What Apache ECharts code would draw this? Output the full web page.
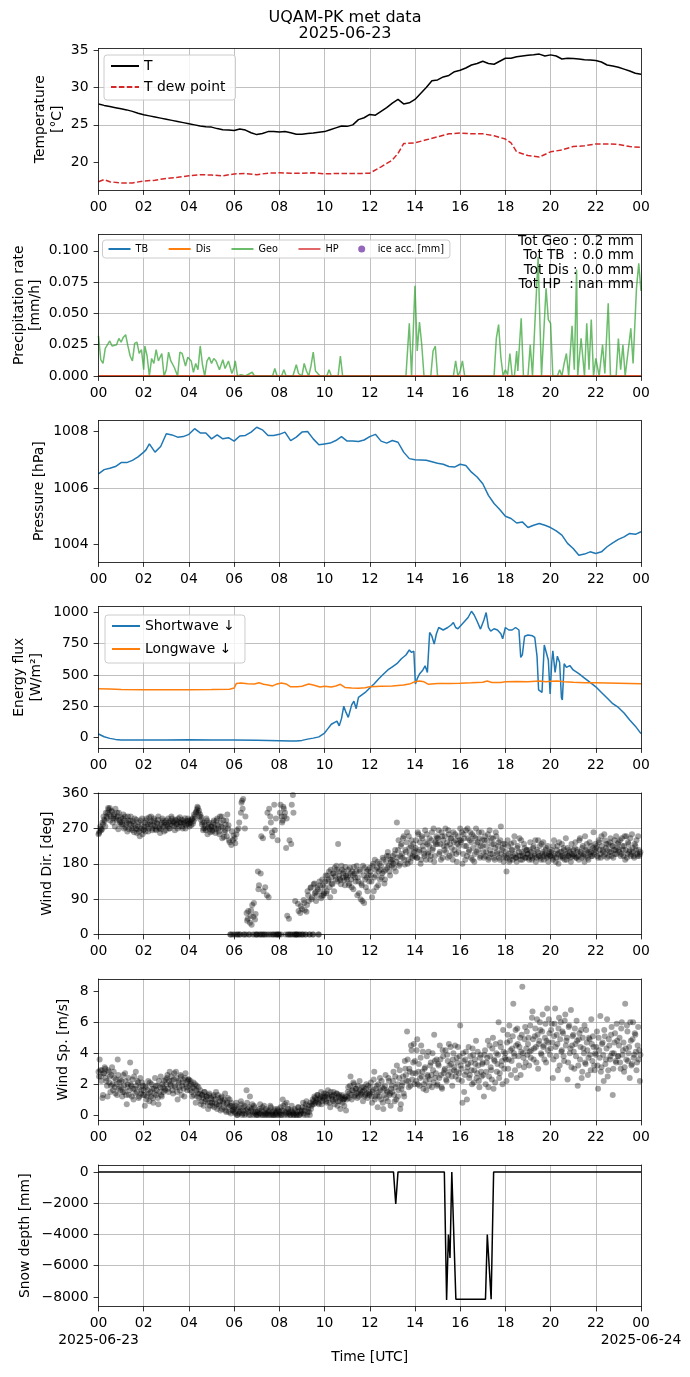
<!DOCTYPE html>
<html lang="en">
<head>
<meta charset="UTF-8">
<title>UQAM-PK met data</title>
<script src="https://cdn.jsdelivr.net/npm/echarts@6.0.0/dist/echarts.min.js"></script>
<style>
  html, body { margin: 0; padding: 0; background: #fff; }
  #chart { width: 690px; height: 1377px; }
</style>
</head>
<body>
<div id="chart"></div>
<script>
// ---- data (hours UTC, 2025-06-23) ----
var X_TICKS = [0, 2, 4, 6, 8, 10, 12, 14, 16, 18, 20, 22, 24];
var DATE_TICKS = [0, 24];
var DATE_LABELS = ['2025-06-23', '2025-06-24'];

var temperature = [[0,27.8],[0.25,27.6],[0.5,27.45],[0.75,27.3],[1,27.15],[1.25,27.0],[1.5,26.8],[1.75,26.55],[2,26.35],[2.25,26.2],[2.5,26.05],[2.75,25.9],[3,25.75],[3.25,25.6],[3.5,25.45],[3.75,25.3],[4,25.15],[4.25,25.0],[4.5,24.85],[4.75,24.75],[5,24.7],[5.25,24.5],[5.5,24.35],[5.75,24.3],[6,24.25],[6.25,24.45],[6.5,24.3],[6.75,23.95],[7,23.7],[7.25,23.85],[7.5,24.1],[7.75,24.1],[8,24.05],[8.25,24.1],[8.5,23.95],[8.75,23.75],[9,23.75],[9.25,23.85],[9.5,23.9],[9.75,24.0],[10,24.1],[10.25,24.35],[10.5,24.6],[10.75,24.85],[11,24.8],[11.25,25.0],[11.5,25.7],[11.75,25.95],[12,26.4],[12.25,26.3],[12.5,26.8],[12.75,27.3],[13,27.9],[13.25,28.4],[13.5,27.8],[13.75,27.95],[14,28.4],[14.25,29.2],[14.5,30.0],[14.75,30.9],[15,31.0],[15.25,31.4],[15.5,31.6],[15.75,32.1],[16,32.3],[16.25,32.6],[16.5,33.0],[16.75,33.2],[17,33.5],[17.25,33.2],[17.5,33.1],[17.75,33.5],[18,33.9],[18.25,33.9],[18.5,34.1],[18.75,34.2],[19,34.3],[19.25,34.35],[19.5,34.45],[19.75,34.2],[20,34.35],[20.25,34.2],[20.5,33.8],[20.75,33.9],[21,33.85],[21.25,33.8],[21.5,33.7],[21.75,33.65],[22,33.6],[22.25,33.4],[22.5,33.0],[22.75,32.85],[23,32.7],[23.25,32.45],[23.5,32.2],[23.75,31.9],[24,31.75]];

var dewPoint = [[0,17.4],[0.25,17.7],[0.5,17.4],[1,17.25],[1.5,17.25],[2,17.5],[2.5,17.6],[3,17.85],[3.5,18.0],[4,18.2],[4.5,18.35],[5,18.3],[5.5,18.2],[6,18.45],[6.5,18.5],[7,18.35],[7.5,18.55],[8,18.6],[8.5,18.55],[9,18.55],[9.5,18.6],[10,18.45],[10.5,18.5],[11,18.5],[11.5,18.5],[12,18.55],[12.5,19.4],[13,20.3],[13.25,21.2],[13.5,22.5],[14,22.6],[14.5,23.0],[15,23.4],[15.5,23.8],[16,23.9],[16.5,23.8],[17,23.8],[17.5,23.55],[18,23.1],[18.25,22.6],[18.5,21.4],[19,20.9],[19.5,20.7],[20,21.4],[20.5,21.65],[21,22.1],[21.5,22.2],[22,22.45],[22.5,22.45],[23,22.4],[23.5,22.1],[24,22.0]];

var geoRate = [[0,0.032],[0.1,0.013],[0.2,0.010],[0.3,0.022],[0.5,0.028],[0.6,0.024],[0.8,0.025],[0.9,0.030],[1.0,0.027],[1.1,0.031],[1.2,0.033],[1.3,0.024],[1.4,0.016],[1.5,0.012],[1.6,0.026],[1.7,0.027],[1.8,0.018],[1.9,0.021],[2.0,0.005],[2.05,0.024],[2.15,0.016],[2.25,0.0],[2.35,0.014],[2.45,0.010],[2.55,0.021],[2.65,0.012],[2.8,0.018],[2.9,0.0],[3.0,0.005],[3.1,0.019],[3.2,0.012],[3.35,0.007],[3.5,0.0],[3.6,0.019],[3.7,0.018],[3.85,0.008],[3.95,0.015],[4.1,0.012],[4.2,0.003],[4.3,0.010],[4.4,0.005],[4.5,0.024],[4.6,0.009],[4.7,0.0],[4.8,0.012],[4.9,0.015],[5.0,0.010],[5.1,0.014],[5.2,0.012],[5.35,0.005],[5.5,0.013],[5.6,0.006],[5.75,0.012],[5.9,0.002],[6.0,0.007],[6.05,0.012],[6.15,0.0],[6.3,0.001],[6.5,0.0],[6.8,0.003],[6.9,0.0],[7.7,0.0],[7.8,0.006],[7.9,0.0],[8.1,0.0],[8.2,0.005],[8.3,0.0],[8.6,0.0],[8.75,0.009],[8.85,0.002],[9.0,0.0],[9.1,0.010],[9.2,0.004],[9.3,0.0],[9.4,0.008],[9.5,0.019],[9.6,0.004],[9.8,0.0],[10.1,0.0],[10.2,0.005],[10.3,0.0],[10.6,0.0],[10.7,0.016],[10.8,0.0],[13.6,0.0],[13.75,0.042],[13.85,0.0],[14.0,0.072],[14.1,0.020],[14.2,0.043],[14.3,0.025],[14.4,0.0],[14.7,0.0],[14.8,0.020],[14.9,0.024],[15.0,0.0],[15.7,0.0],[15.8,0.012],[15.9,0.0],[16.0,0.004],[16.1,0.012],[16.2,0.0],[17.5,0.0],[17.6,0.030],[17.7,0.041],[17.8,0.015],[17.9,0.0],[18.0,0.005],[18.1,0.001],[18.2,0.018],[18.3,0.0],[18.4,0.0],[18.5,0.020],[18.55,0.004],[18.7,0.046],[18.8,0.0],[19.0,0.0],[19.1,0.025],[19.2,0.0],[19.3,0.040],[19.45,0.095],[19.5,0.060],[19.6,0.0],[19.8,0.070],[19.9,0.045],[20.0,0.042],[20.1,0.0],[20.3,0.0],[20.4,0.005],[20.5,0.0],[20.6,0.010],[20.7,0.018],[20.8,0.0],[20.95,0.040],[21.05,0.005],[21.15,0.085],[21.2,0.0],[21.35,0.030],[21.5,0.0],[21.6,0.042],[21.7,0.005],[21.8,0.045],[21.9,0.0],[22.0,0.014],[22.15,0.0],[22.3,0.025],[22.4,0.002],[22.55,0.058],[22.65,0.0],[22.9,0.0],[23.0,0.030],[23.1,0.005],[23.2,0.025],[23.3,0.0],[23.55,0.038],[23.65,0.010],[23.8,0.070],[23.9,0.090],[24.0,0.068]];
var tbRate  = [[0,0],[24,0]];
var disRate = [[0,0],[24,0]];
var hpRate  = [[0,0],[24,0]];
var precipTotals = ['Tot Geo : 0.2 mm', 'Tot TB  : 0.0 mm', 'Tot Dis : 0.0 mm', 'Tot HP  : nan mm'];

var pressure = [[0,1006.5],[0.25,1006.65],[0.5,1006.7],[0.75,1006.76],[1,1006.9],[1.25,1006.9],[1.5,1006.98],[1.75,1007.1],[2,1007.27],[2.1,1007.35],[2.25,1007.56],[2.5,1007.27],[2.75,1007.47],[3,1007.92],[3.25,1007.88],[3.5,1007.8],[3.75,1007.82],[4,1007.9],[4.25,1008.1],[4.5,1007.95],[4.75,1007.95],[5,1007.74],[5.25,1007.88],[5.5,1007.74],[5.75,1007.78],[6,1007.66],[6.25,1007.84],[6.5,1007.86],[6.75,1007.98],[7,1008.15],[7.25,1008.06],[7.5,1007.86],[7.75,1007.86],[8,1007.9],[8.25,1007.98],[8.5,1007.68],[8.75,1007.8],[9,1007.98],[9.25,1008.0],[9.5,1007.74],[9.75,1007.53],[10,1007.56],[10.25,1007.59],[10.5,1007.68],[10.75,1007.82],[11,1007.66],[11.25,1007.66],[11.5,1007.65],[11.75,1007.7],[12,1007.82],[12.25,1007.9],[12.5,1007.66],[12.75,1007.59],[13,1007.68],[13.25,1007.62],[13.5,1007.27],[13.75,1007.04],[14,1007.0],[14.5,1006.98],[15,1006.88],[15.25,1006.84],[15.5,1006.76],[15.75,1006.74],[16,1006.84],[16.25,1006.8],[16.5,1006.56],[16.75,1006.39],[17,1006.15],[17.25,1005.74],[17.5,1005.45],[17.75,1005.24],[18,1005.0],[18.25,1004.92],[18.5,1004.76],[18.75,1004.8],[19,1004.6],[19.25,1004.68],[19.5,1004.74],[19.75,1004.68],[20,1004.6],[20.25,1004.48],[20.5,1004.33],[20.75,1004.04],[21,1003.86],[21.25,1003.62],[21.5,1003.66],[21.75,1003.74],[22,1003.68],[22.25,1003.74],[22.5,1003.92],[22.75,1004.06],[23,1004.18],[23.25,1004.27],[23.5,1004.39],[23.75,1004.36],[24,1004.45]];

var shortwave = [[0,27],[0.25,5],[0.5,-8],[0.75,-16],[1,-20],[1.5,-21],[2,-21],[3,-20],[4,-19],[5,-20],[6,-21],[7,-23],[8,-26],[8.5,-28],[8.75,-29],[9,-24],[9.25,-14],[9.5,-6],[9.75,4],[10,35],[10.15,70],[10.3,105],[10.45,120],[10.55,130],[10.65,92],[10.75,150],[10.85,250],[10.95,200],[11.05,160],[11.2,260],[11.3,290],[11.4,230],[11.5,320],[11.65,340],[11.8,360],[12,395],[12.2,430],[12.4,470],[12.6,505],[12.8,540],[13,565],[13.2,590],[13.4,630],[13.6,660],[13.75,700],[13.85,680],[13.95,690],[14.02,427],[14.1,470],[14.2,507],[14.35,540],[14.45,573],[14.55,520],[14.65,840],[14.75,810],[14.85,747],[14.95,830],[15.05,880],[15.25,860],[15.45,880],[15.6,900],[15.7,920],[15.8,880],[15.9,870],[16.05,900],[16.2,930],[16.35,960],[16.5,1010],[16.62,980],[16.75,930],[16.9,867],[17.05,940],[17.15,1000],[17.25,880],[17.35,850],[17.5,870],[17.65,860],[17.8,830],[17.88,790],[18.0,880],[18.15,860],[18.3,860],[18.45,880],[18.6,860],[18.68,640],[18.75,660],[18.85,810],[19.0,820],[19.2,813],[19.3,800],[19.4,650],[19.47,380],[19.55,373],[19.62,360],[19.72,740],[19.8,747],[19.9,620],[19.98,347],[20.05,600],[20.1,693],[20.2,520],[20.3,650],[20.4,600],[20.48,320],[20.52,300],[20.6,590],[20.7,560],[20.85,575],[21,540],[21.25,510],[21.5,475],[21.75,440],[22,405],[22.25,360],[22.5,315],[22.75,270],[23,240],[23.25,195],[23.5,140],[23.75,90],[24,30]];

var longwave = [[0,390],[0.5,388],[1,383],[2,381],[3,381],[4,382],[5,383],[5.8,386],[6.0,395],[6.1,432],[6.3,435],[6.6,430],[6.9,428],[7.1,437],[7.3,425],[7.5,420],[7.7,412],[7.9,428],[8.1,435],[8.3,428],[8.5,405],[8.8,405],[9.0,410],[9.3,428],[9.5,420],[9.8,403],[10.0,410],[10.3,403],[10.5,412],[10.7,425],[10.9,400],[11.2,395],[11.5,393],[11.8,398],[12.0,405],[12.5,410],[13.0,412],[13.5,420],[13.8,430],[14.0,445],[14.2,452],[14.4,445],[14.6,425],[15.0,432],[15.5,432],[16.0,433],[16.5,437],[17.0,442],[17.2,452],[17.4,440],[17.8,440],[18.0,445],[18.5,448],[19.0,445],[19.5,452],[19.8,446],[20.0,450],[20.3,452],[20.6,445],[21.0,441],[21.5,438],[22.0,438],[22.5,436],[23.0,434],[23.5,432],[24,430]];

// wind samples: one row per hour, two interleaved sets (minute offsets below)
var SAMPLE_MIN_A = [0,3,6,9,12,15,18,21,24,27,30,33,36,39,42,45,48,51,54,57];
var SAMPLE_MIN_B = [1.5,4.5,7.5,10.5,13.5,16.5,19.5,22.5,25.5,28.5,31.5,34.5,37.5,40.5,43.5,46.5,49.5,52.5,55.5,58.5];

var windDirA = [
  [255,262,270,268,280,292,275,300,310,318,322,300,312,295,305,320,290,300,310,285],
  [298,280,305,290,272,285,300,268,290,278,265,282,295,270,258,275,262,290,280,255],
  [268,284,290,275,262,298,280,288,270,295,276,265,282,300,272,268,285,290,262,278],
  [290,275,285,270,282,295,288,276,292,280,270,286,298,284,275,290,282,270,288,295],
  [282,290,278,295,288,300,310,318,322,315,305,298,285,270,278,265,290,272,284,260],
  [275,262,290,280,268,295,270,255,285,300,272,248,265,290,305,278,235,0,262,240],
  [0,232,255,0,270,0,310,340,345,0,300,55,40,0,30,62,75,45,0,52],
  [0,160,125,0,250,0,110,0,270,100,0,320,300,0,250,0,265,295,0,0],
  [0,330,300,290,320,310,220,48,0,240,0,330,355,0,85,0,0,60,0,72],
  [65,0,80,0,58,110,85,0,120,95,0,130,108,100,115,0,125,92,140,100],
  [120,150,110,135,160,95,145,128,155,170,140,165,230,150,138,175,145,160,125,150],
  [140,165,130,155,120,150,172,145,160,100,135,165,90,125,175,80,140,160,110,150],
  [170,150,95,180,145,165,120,185,160,140,175,155,190,130,165,200,210,175,150,185],
  [190,180,205,160,285,215,175,200,230,195,250,178,210,260,190,220,185,240,200,210],
  [200,240,195,255,215,180,250,225,205,265,190,230,210,245,200,260,220,185,235,250],
  [230,265,210,190,250,240,215,270,225,195,255,230,245,205,260,215,240,185,250,225],
  [270,240,180,255,225,265,200,245,215,260,235,190,250,205,270,230,215,245,200,260],
  [225,195,250,210,240,190,265,205,230,245,195,220,250,205,235,190,275,215,230,200],
  [195,160,240,205,190,230,215,200,250,195,185,225,210,200,240,190,205,220,195,215],
  [205,190,235,210,195,225,200,185,215,240,200,195,230,210,190,205,220,200,185,210],
  [200,215,190,240,205,195,225,180,210,200,230,195,215,205,190,220,200,210,185,205],
  [215,200,235,195,210,190,245,205,220,200,185,215,230,195,210,205,225,200,260,215],
  [210,225,195,235,205,250,215,200,240,220,195,230,210,245,200,225,215,205,250,220],
  [235,210,200,245,215,225,190,250,205,230,215,200,255,210,195,225,240,200,215,205]
];
var windDirB = [
  [258,275,265,285,300,288,310,296,322,305,290,315,285,300,275,295,310,268,292,280],
  [285,295,270,300,278,262,290,282,300,270,288,260,278,292,268,285,250,270,295,265],
  [275,262,295,280,270,285,300,265,278,290,268,284,292,270,258,280,295,275,285,265],
  [280,295,270,288,300,278,285,265,290,282,295,275,284,292,270,285,296,278,282,290],
  [275,285,292,282,305,295,312,325,310,300,292,280,265,285,270,295,255,280,268,275],
  [265,285,272,258,290,278,262,300,275,245,290,260,280,250,270,240,0,228,0,252],
  [245,0,265,0,285,0,335,320,0,270,0,35,60,0,48,25,0,80,38,0],
  [0,115,0,155,0,245,0,120,0,310,95,0,285,260,0,330,0,0,240,0],
  [310,0,285,325,300,0,295,0,40,0,230,0,310,0,0,0,78,0,55,0],
  [0,88,62,0,75,100,0,118,90,0,128,105,85,120,0,135,110,98,125,105],
  [135,105,150,140,120,165,130,155,110,148,175,135,160,142,128,165,155,138,172,145],
  [150,125,170,140,160,115,155,135,175,145,105,160,130,85,150,170,120,145,165,135],
  [160,135,175,110,190,150,170,125,180,165,145,195,160,140,185,170,200,160,190,175],
  [200,170,215,185,195,240,180,225,205,245,190,215,235,180,250,205,225,195,230,215],
  [220,195,260,210,235,190,245,215,200,235,255,205,225,190,240,215,270,200,230,245],
  [245,205,230,260,195,225,250,210,235,265,200,245,220,190,235,255,205,230,210,240],
  [235,260,205,245,190,225,270,210,240,195,255,220,185,245,210,235,260,195,225,240],
  [210,240,200,225,255,195,215,245,205,230,190,260,210,225,195,240,205,220,185,230],
  [210,195,225,185,200,215,190,235,205,195,220,200,245,190,210,200,230,195,215,205],
  [195,215,200,190,220,205,240,195,210,200,225,190,205,235,200,215,195,225,205,200],
  [210,195,225,200,185,215,205,235,195,210,200,220,190,245,205,200,215,195,230,200],
  [205,220,195,215,200,240,210,195,225,205,250,200,215,190,235,210,200,220,205,230],
  [220,200,240,215,195,225,210,255,205,230,215,200,235,210,225,195,240,215,205,230],
  [215,240,205,225,200,250,215,195,235,210,245,205,220,200,230,215,205,250,200,210]
];

var windSpeedA = [
  [2.8,3.6,2.5,2.9,1.3,2.7,3.0,2.2,1.2,2.8,2.5,1.9,3.1,1.6,2.4,1.4,2.0,3.6,1.7,2.3],
  [1.8,1.2,2.6,1.5,2.2,0.7,2.0,1.3,3.4,1.9,2.3,1.0,1.7,2.8,1.5,2.1,1.2,2.4,1.6,1.9],
  [1.6,0.6,1.8,1.2,2.2,0.9,1.5,2.0,1.1,1.7,2.4,1.3,1.9,0.7,1.5,2.5,1.2,1.8,2.2,1.6],
  [2.0,2.6,1.5,2.8,1.9,2.2,1.4,2.7,1.8,2.4,1.0,2.1,1.6,2.5,1.9,2.3,1.2,2.7,1.8,2.2],
  [2.3,1.6,2.0,1.2,2.1,1.7,0.8,1.9,1.4,1.1,1.6,0.9,1.3,0.6,1.5,1.0,1.2,0.4,1.4,0.8],
  [1.0,0.6,1.3,0.8,1.5,0.4,1.1,0.7,0.3,1.2,0.9,0.5,1.4,0.2,0.8,0.5,1.0,0.1,0.6,0.3],
  [0.4,0.1,0.8,0.0,0.5,0.2,0.9,0.0,0.3,0.6,0.1,1.6,0.4,0.0,1.2,0.3,0.7,0.0,0.5,0.2],
  [0.0,0.3,0.1,0.7,0.0,0.5,0.2,0.0,0.4,0.1,0.0,0.3,0.6,0.0,0.2,0.0,0.4,0.1,0.0,0.3],
  [0.2,0.5,0.0,1.0,0.3,0.7,0.1,0.0,0.4,0.2,0.0,0.6,0.1,0.0,0.3,0.0,0.2,0.5,0.0,0.1],
  [0.3,0.8,0.0,0.5,0.9,0.2,0.6,0.0,0.4,0.7,0.9,1.2,0.8,1.0,1.3,0.7,1.1,1.5,0.9,1.2],
  [1.0,1.4,0.8,1.6,1.2,0.5,1.3,1.0,1.5,0.7,1.1,1.4,0.9,1.3,0.4,1.2,0.8,1.0,1.1,0.3],
  [1.2,1.8,1.4,2.5,1.0,1.6,2.0,1.3,1.7,1.1,1.5,2.2,1.4,1.8,0.9,1.6,1.3,2.0,1.1,1.5],
  [1.4,2.1,0.8,1.6,2.8,1.2,1.9,0.5,1.5,2.4,1.0,1.8,0.4,1.3,2.6,1.6,0.9,2.2,1.4,1.7],
  [1.5,2.8,0.9,1.8,3.2,1.2,2.4,0.4,1.7,2.1,1.4,3.5,2.6,5.4,2.2,3.0,1.9,4.2,2.7,4.6],
  [3.5,2.2,4.9,2.8,1.9,3.7,2.5,4.1,2.0,3.1,1.6,2.6,4.1,2.3,3.4,1.8,2.9,5.2,2.4,3.6],
  [2.0,3.2,4.5,2.6,1.7,3.8,2.9,4.2,2.2,3.5,4.6,2.8,3.3,1.9,4.0,3.1,2.5,3.7,4.4,2.7],
  [5.8,3.0,0.8,3.5,2.6,4.1,1.0,3.3,2.4,3.8,2.9,4.3,2.1,3.6,4.8,2.7,3.2,1.8,3.9,2.5],
  [3.4,1.2,4.2,2.8,3.7,1.8,4.5,3.1,2.3,5.0,3.6,2.1,4.0,3.3,6.0,2.7,4.4,3.5,5.5,3.0],
  [4.0,2.2,5.2,3.6,4.8,2.6,4.3,7.2,3.8,5.5,2.4,4.6,3.2,5.0,4.1,8.3,3.7,4.9,3.4,5.4],
  [4.6,3.2,5.8,4.2,6.7,3.6,5.1,4.4,6.2,3.0,4.8,5.5,3.9,6.5,4.5,5.0,3.4,6.9,4.7,5.3],
  [4.3,5.9,2.4,5.1,6.9,3.8,4.6,5.6,3.2,6.0,4.2,5.3,3.5,6.5,4.8,2.3,5.7,4.0,6.8,4.5],
  [5.2,3.0,4.6,6.1,1.9,4.9,3.6,5.5,2.8,4.3,5.8,3.3,4.7,2.6,5.0,3.9,6.2,3.5,4.4,2.9],
  [3.9,5.4,1.7,4.2,6.4,3.1,4.7,2.2,5.1,3.6,6.2,2.9,4.5,3.8,5.7,1.3,4.0,5.3,3.4,4.8],
  [3.8,5.0,3.0,6.0,4.2,2.8,7.2,3.6,5.4,4.0,2.4,4.8,3.3,6.0,3.9,5.2,2.9,4.5,3.6,2.2]
];
var windSpeedB = [
  [2.5,2.9,2.2,1.1,2.7,3.1,2.4,1.9,2.9,2.1,1.5,2.6,2.0,2.8,1.8,2.3,1.3,2.6,2.1,1.6],
  [2.2,1.5,1.9,2.7,1.3,1.8,2.4,1.6,2.0,1.2,1.7,2.5,1.4,1.9,2.2,1.1,1.8,1.4,2.1,1.3],
  [1.3,1.9,1.0,1.6,1.4,2.1,1.2,1.7,0.8,1.4,1.9,1.6,1.1,2.2,1.8,1.3,2.0,1.5,1.7,2.3],
  [2.4,1.7,2.2,2.0,2.5,1.6,2.3,1.9,2.8,1.5,2.2,1.8,2.6,1.3,2.1,1.7,2.4,2.0,1.6,2.3],
  [1.9,2.2,1.5,1.8,1.3,2.0,1.6,1.2,1.8,1.4,0.7,1.3,1.1,1.5,0.9,1.2,0.8,1.3,0.6,1.1],
  [0.8,1.2,0.5,1.0,0.7,1.3,0.6,0.9,1.1,0.4,0.8,1.0,0.3,0.7,1.1,0.2,0.6,0.8,0.3,0.5],
  [0.2,0.6,0.0,0.4,0.1,0.3,0.7,0.1,0.5,0.0,0.3,0.8,0.2,0.5,0.0,0.4,0.2,0.6,0.1,0.0],
  [0.2,0.0,0.4,0.1,0.3,0.0,0.6,0.1,0.0,0.3,0.2,0.0,0.5,0.1,0.0,0.3,0.0,0.2,0.4,0.0],
  [0.1,0.0,0.3,0.6,0.0,0.2,0.8,0.4,0.1,0.0,0.3,0.2,0.0,0.4,0.1,0.0,0.5,0.0,0.3,0.2],
  [0.5,0.1,0.3,0.7,0.0,0.4,0.2,0.8,0.6,1.0,0.7,1.1,0.9,1.3,0.8,1.0,1.2,0.7,1.1,1.4],
  [1.2,0.9,1.3,1.1,0.8,1.5,1.2,0.9,1.3,1.0,1.4,0.6,1.2,0.9,1.1,1.3,1.0,0.6,1.2,1.0],
  [1.5,1.1,1.9,1.3,1.6,2.1,1.2,1.7,1.4,1.9,1.2,1.6,1.3,1.5,1.8,1.2,1.7,1.4,1.9,1.3],
  [1.8,1.2,1.5,2.3,1.0,1.7,1.3,2.0,1.2,1.6,2.2,0.8,1.7,1.9,1.1,1.5,2.4,1.3,0.6,1.9],
  [2.2,1.3,2.5,1.0,2.0,1.6,2.9,0.7,1.9,2.5,1.2,3.0,2.2,3.6,1.8,2.8,4.5,2.3,3.4,2.0],
  [2.7,4.2,2.0,3.3,2.4,4.5,2.8,1.7,3.0,2.2,3.8,2.5,1.9,3.2,2.6,4.0,2.1,3.5,2.7,1.9],
  [3.3,2.4,3.6,1.8,4.2,2.7,3.0,2.3,3.9,2.6,3.2,4.4,2.5,3.6,2.9,4.5,2.8,3.4,2.3,3.8],
  [3.2,2.2,4.0,1.5,3.6,2.8,3.1,4.4,2.6,3.4,2.0,3.9,2.9,3.3,2.4,4.1,2.2,3.7,2.8,3.3],
  [2.6,3.9,2.0,3.4,4.8,2.5,3.8,2.9,4.3,1.7,3.5,4.6,2.8,3.9,2.4,4.7,3.2,2.0,4.1,3.7],
  [3.6,4.7,3.0,5.8,4.2,3.5,5.1,4.0,2.9,4.5,5.6,3.8,4.4,2.6,5.2,4.0,3.1,5.7,4.3,3.9],
  [5.0,4.1,3.7,6.3,4.9,4.3,5.6,3.4,5.2,4.6,6.0,4.0,5.4,4.4,3.6,5.9,4.8,4.2,6.2,3.9],
  [5.5,4.7,3.6,5.9,4.4,5.2,2.9,6.3,4.9,4.1,5.4,3.8,6.1,4.5,5.0,3.4,5.8,4.3,3.1,5.1],
  [4.1,5.6,3.8,4.8,3.2,5.3,4.4,2.4,5.0,4.0,3.4,5.5,4.2,3.7,4.9,2.9,4.6,5.1,3.2,4.0],
  [4.4,3.2,5.0,3.7,2.8,4.6,3.9,5.5,3.3,4.3,2.5,4.9,3.6,5.2,4.0,3.0,4.7,3.5,5.9,3.8],
  [4.5,3.4,5.6,3.9,4.7,3.1,4.3,5.8,3.5,4.4,6.0,3.2,4.9,3.7,5.3,4.1,3.4,5.7,4.2,3.9]
];

var snowDepth = [[0,0],[13.05,0],[13.15,-2050],[13.25,0],[15.3,0],[15.4,-8200],[15.48,-4000],[15.55,-5500],[15.63,0],[15.71,0],[15.81,-8150],[17.12,-8150],[17.2,-4000],[17.28,-4000],[17.37,-8150],[17.48,0],[24,0]];

// ---- layout ----
var FONT = '"DejaVu Sans", sans-serif';
var TOPS = [48.5, 234.5, 420.5, 606.5, 793, 979, 1165];
var PANEL_H = 141.5;

function hourLabel(v) { var h = Math.round(Number(v)) % 24; return (h < 10 ? '0' : '') + h; }
function minusSign(v) { return String(v).replace('-', '\u2212'); }

var panels = [
  { name: 'Temperature\n[°C]', gap: 33, min: 16.3, max: 35.2, step: 5, ticks: [20, 25, 30, 35], fmt: String },
  { name: 'Precipitation rate\n[mm/h]', gap: 54.5, min: 0, max: 0.113, step: 0.025, ticks: [0, 0.025, 0.05, 0.075, 0.1], fmt: function (v) { return Number(v).toFixed(3); } },
  { name: 'Pressure [hPa]', gap: 51, min: 1003.38, max: 1008.39, step: 2, ticks: [1004, 1006, 1008], fmt: String },
  { name: 'Energy flux\n[W/m²]', gap: 54, min: -85, max: 1048, step: 250, ticks: [0, 250, 500, 750, 1000], fmt: String },
  { name: 'Wind Dir. [deg]', gap: 42.5, min: 0, max: 360, step: 90, ticks: [0, 90, 180, 270, 360], fmt: String },
  { name: 'Wind Sp. [m/s]', gap: 27, min: -0.35, max: 8.8, step: 2, ticks: [0, 2, 4, 6, 8], fmt: String },
  { name: 'Snow depth [mm]', gap: 64.5, min: -8610, max: 442, step: 2000, ticks: [-8000, -6000, -4000, -2000, 0], fmt: minusSign }
];

var grids = [], xAxes = [], yAxes = [];
var txt = { color: '#000', fontFamily: FONT, fontSize: 13.9 };

function borderAxis(i, pos, mn, mx) {
  return {
    type: 'value', gridIndex: i, position: pos, min: mn, max: mx, z: 10,
    axisLine: { show: true, onZero: false, lineStyle: { color: '#000', width: 0.8 } },
    axisTick: { show: false }, axisLabel: { show: false }, splitLine: { show: false }
  };
}

panels.forEach(function (p, i) {
  var last = i === panels.length - 1;
  grids.push({ left: 98.5, width: 542.5, top: TOPS[i], height: PANEL_H, containLabel: false, outerBoundsMode: 'none' });
  xAxes.push({
    type: 'value', gridIndex: i, position: 'bottom', min: 0, max: 24, minInterval: 2, maxInterval: 2,
    axisLine: { show: false, onZero: false },
    axisTick: { show: true, length: 4.9, customValues: X_TICKS, lineStyle: { color: '#000', width: 0.8 } },
    axisLabel: {
      color: '#000', fontFamily: FONT, fontSize: 13.9, margin: 10, customValues: X_TICKS,
      showMinLabel: true, showMaxLabel: true, hideOverlap: false, formatter: hourLabel
    },
    splitLine: { show: true, showMinLine: false, showMaxLine: false, lineStyle: { color: '#b0b0b0', width: 0.8 } },
    name: last ? 'Time [UTC]' : '', nameLocation: 'middle', nameGap: 44, nameMoveOverlap: false, nameTextStyle: txt
  });
  xAxes.push(borderAxis(i, 'bottom', 0, 24));
  xAxes.push(borderAxis(i, 'top', 0, 24));
  yAxes.push({
    type: 'value', gridIndex: i, position: 'left', min: p.min, max: p.max, minInterval: p.step, maxInterval: p.step,
    axisLine: { show: false, onZero: false },
    axisTick: { show: true, length: 4.9, customValues: p.ticks, lineStyle: { color: '#000', width: 0.8 } },
    axisLabel: { color: '#000', fontFamily: FONT, fontSize: 13.9, margin: 10, customValues: p.ticks, formatter: p.fmt,
      showMinLabel: true, showMaxLabel: true },
    splitLine: { show: true, showMinLine: false, showMaxLine: false, lineStyle: { color: '#b0b0b0', width: 0.8 } },
    name: p.name, nameLocation: 'middle', nameRotate: 90, nameGap: p.gap, nameMoveOverlap: false,
    nameTextStyle: { color: '#000', fontFamily: FONT, fontSize: 13.9, lineHeight: 16.7, align: 'center' }
  });
  yAxes.push(borderAxis(i, 'left', p.min, p.max));
  yAxes.push(borderAxis(i, 'right', p.min, p.max));
});

// second label row under the last panel: the dates at both ends
xAxes.push({
  type: 'value', gridIndex: panels.length - 1, position: 'bottom', min: 0, max: 24,
  axisLine: { show: false, onZero: false }, axisTick: { show: false }, splitLine: { show: false },
  axisLabel: {
    color: '#000', fontFamily: FONT, fontSize: 13.9, margin: 26.7, customValues: DATE_TICKS,
    showMinLabel: true, showMaxLabel: true, hideOverlap: false,
    formatter: function (v) { return DATE_LABELS[DATE_TICKS.indexOf(Number(v))] || ''; }
  }
});

function line(name, panel, data, color, extra) {
  var s = {
    name: name, type: 'line', xAxisIndex: panel * 3, yAxisIndex: panel * 3, data: data,
    symbol: 'none', showSymbol: false, clip: true, z: 3,
    lineStyle: { color: color, width: 1.5 }, itemStyle: { color: color }
  };
  if (extra) for (var k in extra) s.lineStyle[k] = extra[k];
  return s;
}

function hourly(rowsA, rowsB) {
  var out = [];
  rowsA.forEach(function (row, h) {
    row.forEach(function (v, k) {
      out.push([h + SAMPLE_MIN_A[k] / 60, v]);
      out.push([h + SAMPLE_MIN_B[k] / 60, rowsB[h][k]]);
    });
  });
  return out;
}

function dots(name, panel, data) {
  return {
    name: name, type: 'scatter', xAxisIndex: panel * 3, yAxisIndex: panel * 3, data: data,
    symbol: 'circle', symbolSize: 6, itemStyle: { color: 'rgba(0,0,0,0.45)' }, z: 3
  };
}

var series = [
  line('T', 0, temperature, '#000000'),
  line('T dew point', 0, dewPoint, '#d62728', { type: [5.5, 2.4] }),
  line('TB', 1, tbRate, '#1f77b4'),
  line('Dis', 1, disRate, '#ff7f0e'),
  line('Geo', 1, geoRate, 'rgba(44,160,44,0.7)'),
  line('HP', 1, hpRate, 'rgba(214,39,40,0.7)'),
  { name: 'ice acc. [mm]', type: 'scatter', xAxisIndex: 3, yAxisIndex: 3, data: [], symbol: 'circle', symbolSize: 5, itemStyle: { color: '#9467bd' } },
  line('pressure', 2, pressure, '#1f77b4'),
  line('Shortwave ↓', 3, shortwave, '#1f77b4'),
  line('Longwave ↓', 3, longwave, '#ff7f0e'),
  dots('wind dir', 4, hourly(windDirA, windDirB)),
  dots('wind speed', 5, hourly(windSpeedA, windSpeedB)),
  line('snow', 6, snowDepth, '#000000')
];

var legendBox = {
  borderColor: '#cccccc', borderWidth: 1, borderRadius: 3,
  backgroundColor: 'rgba(255,255,255,0.8)', selectedMode: false,
  itemStyle: { opacity: 0 }
};
function legend(opts) {
  var o = {};
  for (var k in legendBox) o[k] = legendBox[k];
  for (var j in opts) o[j] = opts[j];
  return o;
}

var chart = echarts.init(document.getElementById('chart'), null, { renderer: 'canvas' });
chart.setOption({
  animation: false,
  backgroundColor: '#ffffff',
  grid: grids,
  xAxis: xAxes,
  yAxis: yAxes,
  legend: [
    legend({ data: ['T', 'T dew point'], orient: 'vertical', left: 104, top: 55, itemWidth: 28, itemHeight: 14, itemGap: 7,
      padding: [4, 10, 6, 6], textStyle: txt }),
    legend({ data: ['TB', 'Dis', 'Geo', 'HP', { name: 'ice acc. [mm]', icon: 'circle', itemStyle: { opacity: 1 } }],
      orient: 'horizontal', left: 102.5, top: 240, itemWidth: 22, itemHeight: 7, itemGap: 19.6,
      padding: [4, 6, 4, 5], textStyle: { color: '#000', fontFamily: FONT, fontSize: 9.7 } }),
    legend({ data: ['Shortwave ↓', 'Longwave ↓'], orient: 'vertical', left: 105, top: 615, itemWidth: 28, itemHeight: 14, itemGap: 9,
      padding: [4, 10, 7, 6], textStyle: txt })
  ],
  graphic: [
    { type: 'text', x: 345, y: 9.5, z: 20,
      style: { text: 'UQAM-PK met data\n2025-06-23', fill: '#000', fontFamily: FONT, fontSize: 16, lineHeight: 16.5, align: 'center', verticalAlign: 'top' } },
    { type: 'text', x: 634, y: 234, z: 20,
      style: { text: precipTotals.join('\n'), fill: '#000', fontFamily: FONT, fontSize: 13.5, lineHeight: 14.5, align: 'right', verticalAlign: 'top' } }
  ],
  series: series
});
</script>
</body>
</html>
